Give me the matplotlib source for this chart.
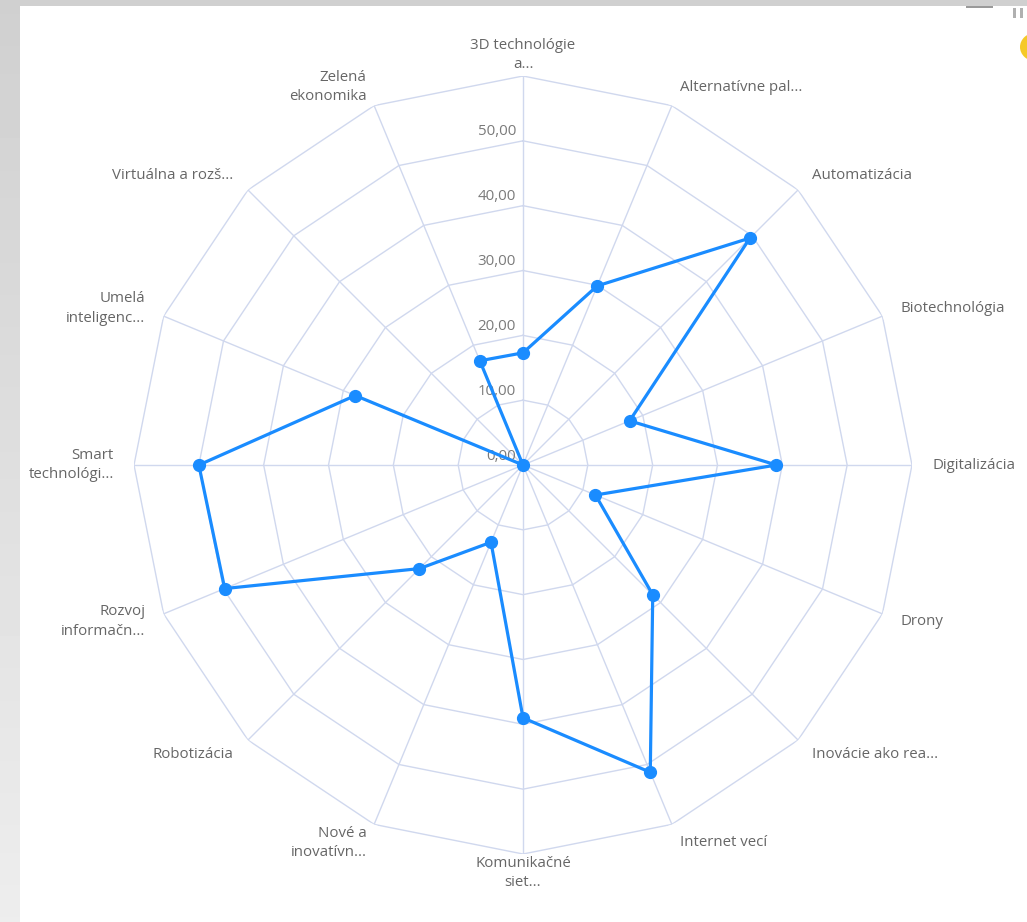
import numpy as np
import matplotlib
matplotlib.use("Agg")
from matplotlib import pyplot as plt
from matplotlib.patches import Rectangle, Circle

# categories clockwise from the top
categories = [
    "3D technológie\na...", "Alternatívne pal...", "Automatizácia", "Biotechnológia",
    "Digitalizácia", "Drony", "Inovácie ako rea...", "Internet vecí",
    "Komunikačné\nsiet...", "Nové a\ninovatívn...", "Robotizácia", "Rozvoj\ninformačn...",
    "Smart\ntechnológi...", "Umelá\ninteligenc...", "Virtuálna a rozš...", "Zelená\nekonomika",
]
values = [17.3, 29.9, 49.5, 17.8, 39.1, 12.1, 28.3, 51.3,
          39.0, 12.9, 22.6, 49.8, 50.0, 28.0, 0.0, 17.4]
ring_values = [0, 10, 20, 30, 40, 50, 60]
ring_labels = ["0,00", "10,00", "20,00", "30,00", "40,00", "50,00", ""]

LINE = "#1a8cff"
GRID = "#d0d8ee"
TEXT = "#666666"
FONT = ["Open Sans", "DejaVu Sans"]

W, H = 1027, 922
fig = plt.figure(figsize=(W / 100, H / 100), dpi=100)
fig.patch.set_facecolor("#d0d0d0")

# white card with a pale gradient strip on the left
grad = fig.add_axes([0, 0, 20 / W, 1])
grad.imshow(np.linspace(0.815, 0.93, 200).reshape(-1, 1), cmap="gray", vmin=0, vmax=1,
            aspect="auto", origin="upper")
grad.axis("off")
fig.patches.append(Rectangle((20 / W, 0), 1 - 20 / W, 1 - 6 / H, transform=fig.transFigure,
                             facecolor="white", edgecolor="none", zorder=-10))
fig.patches.append(Rectangle((966 / W, 1 - 8 / H), 27 / W, 2 / H, transform=fig.transFigure,
                             facecolor="#9a9a9a", edgecolor="none", zorder=-5))
fig.patches.append(Circle((1036 / W, 1 - 47 / H), 16 / W, transform=fig.transFigure,
                          facecolor="#f5c928", edgecolor="none", zorder=-5))
for xx in (1013, 1020):
    fig.patches.append(Rectangle((xx / W, 1 - 18 / H), 3 / W, 10 / H, transform=fig.transFigure,
                                 facecolor="#b0b0b0", edgecolor="none", zorder=-5))

cx, cy, R = 523, 465, 389
ax = fig.add_axes([(cx - R) / W, (H - cy - R) / H, 2 * R / W, 2 * R / H], projection="polar")
ax.set_zorder(5)
ax.set_facecolor("none")
ax.set_theta_zero_location("N")
ax.set_theta_direction(-1)
ax.set_ylim(0, 60)
ax.grid(False)
ax.spines["polar"].set_visible(False)
ax.set_xticks([])
ax.set_yticks([])

n = len(categories)
angles = np.arange(n) * 2 * np.pi / n
closed = np.append(angles, angles[0])

# polygon grid and spokes
for rv in ring_values[1:]:
    ax.plot(closed, [rv] * (n + 1), color=GRID, lw=1.0, zorder=1)
for a in angles:
    ax.plot([a, a], [0, 60], color=GRID, lw=1.0, zorder=1)

# ring labels along the top spoke
for rv, lab in zip(ring_values, ring_labels):
    if lab:
        ax.annotate(lab, xy=(0, rv), xytext=(-5, 1), textcoords="offset points",
                    ha="right", va="bottom", color="#7a7a7a", fontsize=10.8, family=FONT)

# category labels
for a, lab in zip(angles, categories):
    deg = np.degrees(a)
    kw = dict(color=TEXT, fontsize=10.8, family=FONT, linespacing=1.4)
    if np.isclose(deg, 0):
        ax.text(a, 60.6, lab, ha="center", va="bottom", multialignment="center", **kw)
    elif np.isclose(deg, 180):
        ax.text(a, 60.3, lab, ha="center", va="top", multialignment="center", **kw)
    elif deg < 180:
        ax.text(a, 63.1, lab, ha="left", va="center", multialignment="left", **kw)
    else:
        ax.text(a, 63.1, lab, ha="right", va="center", multialignment="right", **kw)

ax.plot(closed, values + [values[0]], color=LINE, lw=2.3, zorder=3, clip_on=False)
ax.plot(angles, values, "o", color=LINE, markersize=8.5, zorder=4, clip_on=False)

fig.savefig("out.png", dpi=100, facecolor=fig.get_facecolor())
